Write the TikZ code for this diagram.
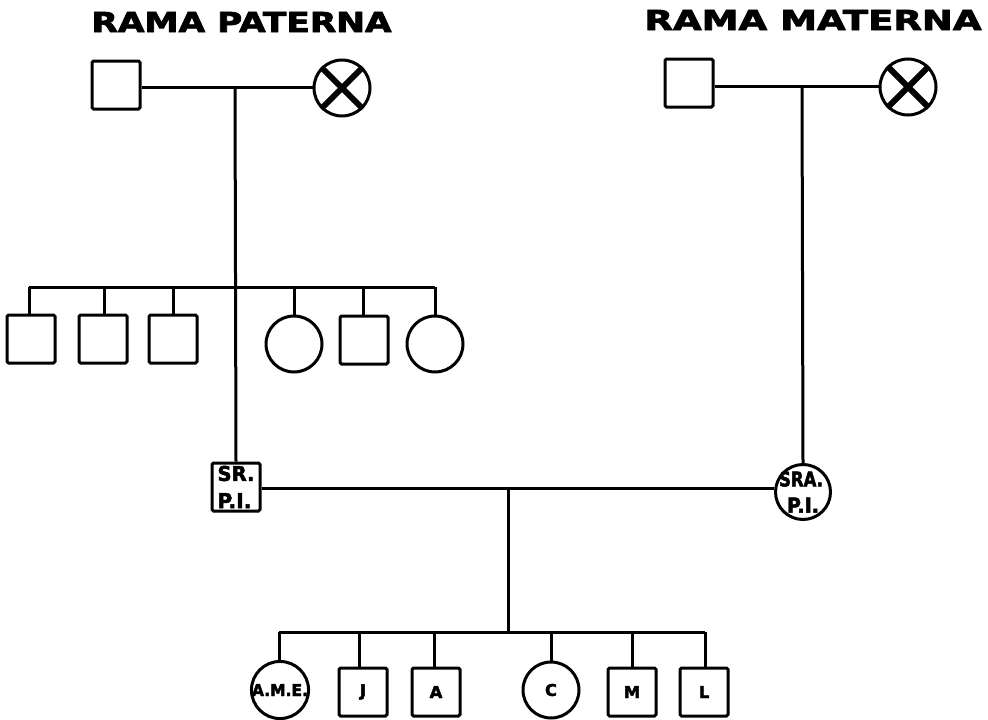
\documentclass[tikz,border=0pt]{standalone}
\usepackage{fontspec}
\setmainfont{DejaVu Sans}
\newfontfamily\heavy[FakeBold=2.5]{DejaVu Sans Bold}
\usepackage{graphicx}
\begin{document}
\begin{tikzpicture}[x=1pt,y=-1pt,line width=3pt,
  sq/.style={draw,line width=3pt,minimum size=48pt,inner sep=0pt,rounded corners=1.5pt,font=\heavy},
  ci/.style={draw,line width=3pt,circle,minimum size=56pt,inner sep=0pt,font=\heavy},
  lnk/.style={line width=3pt},
  cross/.style={line width=6pt},
  title/.style={inner sep=0pt,anchor=west}]
\useasboundingbox (0,0) rectangle (988,720);
% titles
\node[title] (tp) at (90,22) {\resizebox{300pt}{20pt}{\heavy RAMA PATERNA}};
\node[title] (tm) at (643,20) {\resizebox{337pt}{20pt}{\heavy RAMA MATERNA}};
% paternal grandparents
\node[sq] (pgf) at (116,85) {};
\node[ci] (pgm) at (342,88) {};
\draw[cross] (pgm.north west) -- (pgm.south east) (pgm.north east) -- (pgm.south west);
\coordinate (pm) at (235,87);
\draw[lnk] (pgf.east |- pm) -- (pgm.west |- pm);
% maternal grandparents
\node[sq] (mgf) at (689,83) {};
\node[ci] (mgm) at (908,87) {};
\draw[cross] (mgm.north west) -- (mgm.south east) (mgm.north east) -- (mgm.south west);
\coordinate (mm) at (802,86);
\draw[lnk] (mgf.east |- mm) -- (mgm.west |- mm);
% paternal siblings
\coordinate (sl) at (29,287);
\coordinate (sr) at (435,287);
\draw[lnk] (sl) -- (sr);
\node[sq] (s1) at (31,339) {};
\node[sq] (s2) at (103,339) {};
\node[sq] (s3) at (173,339) {};
\node[ci] (s4) at (294,344) {};
\node[sq] (s5) at (364,340) {};
\node[ci] (s6) at (435,344) {};
\foreach \s/\x in {s1/29,s2/104,s3/173,s4/294,s5/363,s6/435}
  \draw[lnk] (\x,287) -- (\s.north -| \x,0);
% parents
\node[sq,align=left] (f) at (236,487) {\resizebox{37pt}{15pt}{SR.}\\[11pt]\resizebox{34pt}{15pt}{P.I.}};
\node[ci,minimum size=55pt,
  label={[font=\heavy,align=center,inner sep=0pt]center:\hspace*{-4pt}\resizebox{44pt}{15pt}{SRA.}\\[10pt]\resizebox{32pt}{15pt}{P.I.}}] (m) at (803,492) {};
\draw[lnk] (pm) -- (f.north);
\draw[lnk] (mm) -- (m.north);
\coordinate (cm) at (508,488);
\draw[lnk] (f.east |- cm) -- (m.west |- cm);
% children
\coordinate (ch) at (508,632);
\draw[lnk] (cm) -- (ch);
\draw[lnk] (279,632) -- (705,632);
\node[ci] (c1) at (280,690) {\resizebox{56pt}{12pt}{A.M.E.}};
\node[sq] (c2) at (363,692) {\resizebox{!}{12pt}{J}};
\node[sq] (c3) at (436,692) {\resizebox{!}{12pt}{A}};
\node[ci] (c4) at (551,690) {\resizebox{!}{12pt}{C}};
\node[sq] (c5) at (632,692) {\resizebox{!}{12pt}{M}};
\node[sq] (c6) at (704,692) {\resizebox{!}{12pt}{L}};
\foreach \s/\x in {c1/279,c2/359,c3/434,c4/551,c5/632,c6/705}
  \draw[lnk] (\x,632) -- (\s.north -| \x,0);
\end{tikzpicture}
\end{document}
